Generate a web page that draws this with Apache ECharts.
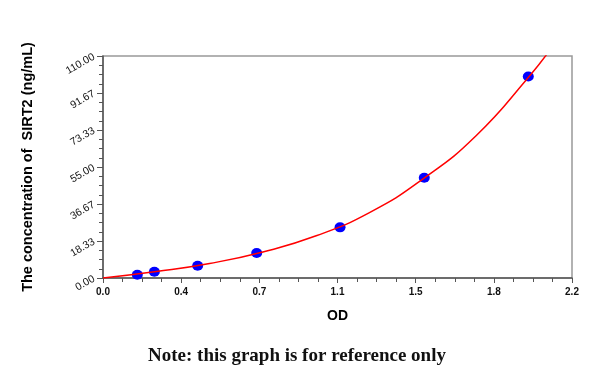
<!DOCTYPE html>
<html>
<head>
<meta charset="utf-8">
<script src="https://cdn.jsdelivr.net/npm/echarts@6/dist/echarts.min.js"></script>
<style>
html,body{margin:0;padding:0;background:#fff;}
#c{width:600px;height:379px;}
</style>
</head>
<body>
<div id="c"></div>
<script>
// Standard points (OD, concentration)
var pointOD = [0.161, 0.241, 0.444, 0.721, 1.112, 1.507, 1.995];
var pointConc = [1.64, 3.12, 6.1, 12.4, 25.1, 49.7, 99.8];
// Fitted curve
var curveOD = [0, 0.25, 0.5, 0.75, 1.0, 1.25, 1.5, 1.75, 2.0, 2.1];
var curveConc = [0, 3.2, 7.2, 12.9, 20.9, 32.4, 49.0, 70.5, 100.0, 113.5];
// Tick labels
var xTickLabels = ['0.0', '0.4', '0.7', '1.1', '1.5', '1.8', '2.2'];
var yTickLabels = ['0.00', '18.33', '36.67', '55.00', '73.33', '91.67', '110.00'];
var xMax = 2.2, yMax = 110;

var xStep = xMax / 6, yStep = yMax / 6;
var chart = echarts.init(document.getElementById('c'), null, {renderer: 'canvas'});
var axisCol = '#555';
chart.setOption({
  animation: false,
  backgroundColor: '#fff',
  grid: {left: 103, right: 28, top: 56, bottom: 101, show: true, borderColor: '#999', borderWidth: 1.5},
  xAxis: {
    type: 'value', min: 0, max: xMax, interval: xStep,
    name: 'OD', nameLocation: 'middle', nameGap: 31,
    nameTextStyle: {fontFamily: 'Liberation Sans', fontWeight: 'bold', fontSize: 14, color: '#000'},
    axisLine: {show: true, lineStyle: {color: axisCol, width: 1.5}},
    axisTick: {show: true, length: 5, lineStyle: {color: axisCol}},
    minorTick: {show: true, splitNumber: 4, length: 4, lineStyle: {color: axisCol}},
    splitLine: {show: false},
    axisLabel: {
      margin: 9, fontFamily: 'Liberation Sans', fontWeight: 'bold', fontSize: 10, color: '#111',
      formatter: function (v) { return xTickLabels[Math.round(v / xStep)]; }
    }
  },
  yAxis: {
    type: 'value', min: 0, max: yMax, interval: yStep,
    name: 'The concentration of  SIRT2 (ng/mL)', nameLocation: 'middle', nameGap: 68, nameRotate: 90,
    nameTextStyle: {fontFamily: 'Liberation Sans', fontWeight: 'bold', fontSize: 14.5, color: '#000'},
    axisLine: {show: true, lineStyle: {color: axisCol, width: 1.5}},
    axisTick: {show: true, length: 6, lineStyle: {color: axisCol}},
    minorTick: {show: true, splitNumber: 4, length: 4, lineStyle: {color: axisCol}},
    splitLine: {show: false},
    axisLabel: {
      margin: 9, rotate: 30, fontFamily: 'Liberation Sans', fontSize: 10.5, color: '#111',
      formatter: function (v) { return yTickLabels[Math.round(v / yStep)]; }
    }
  },
  graphic: [{
    type: 'text', left: 148, top: 347,
    style: {text: 'Note: this graph is for reference only', fontFamily: 'Liberation Serif', fontWeight: 'bold', fontSize: 19, fill: '#111'}
  }],
  series: [{
    type: 'scatter', z: 2,
    data: pointOD.map(function (x, i) { return [x, pointConc[i]]; }),
    symbol: 'circle', symbolSize: [11, 10],
    itemStyle: {color: '#0000ff', opacity: 1}
  }, {
    type: 'line', z: 3, smooth: 0.5, showSymbol: false, clip: true,
    data: curveOD.map(function (x, i) { return [x, curveConc[i]]; }),
    lineStyle: {color: '#ff0000', width: 1.5}
  }]
});
</script>
</body>
</html>
